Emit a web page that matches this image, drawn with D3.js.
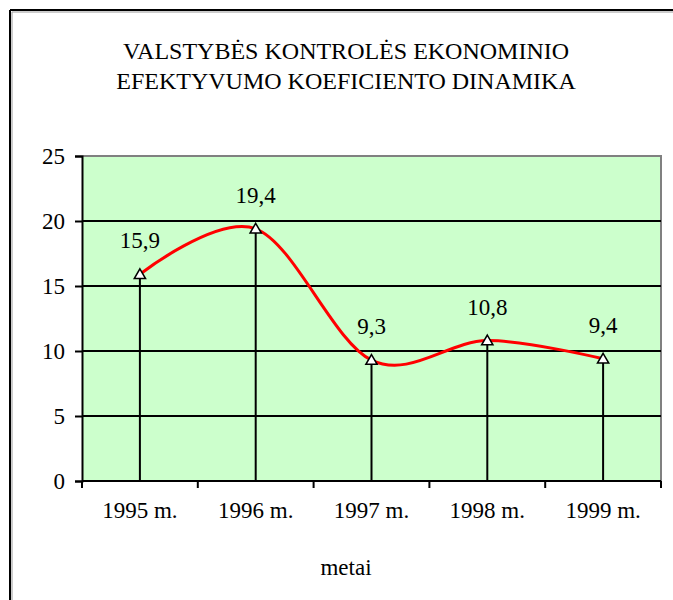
<!DOCTYPE html>
<html>
<head>
<meta charset="utf-8">
<script src="https://cdn.jsdelivr.net/npm/d3@7"></script>
</head>
<body style="margin:0; overflow:hidden">
<div id="app"></div>
<script>
const titleLines = ["VALSTYBĖS KONTROLĖS EKONOMINIO", "EFEKTYVUMO KOEFICIENTO DINAMIKA"];
const years = ["1995 m.", "1996 m.", "1997 m.", "1998 m.", "1999 m."];
const values = [15.9, 19.4, 9.3, 10.8, 9.4];
const yTicks = [0, 5, 10, 15, 20, 25];
const xTitle = "metai";

const width = 673, height = 600;
const plot = { left: 82, right: 661, top: 156, bottom: 481 };
const font = "Liberation Serif";

const svg = d3.select("#app")
  .append("svg")
  .attr("width", width)
  .attr("height", height)
  .attr("font-family", font)
  .style("display", "block");

// outer chart frame: only top and left edges are in view
svg.append("line")
  .attr("x1", 10).attr("x2", width + 5)
  .attr("y1", 10).attr("y2", 10)
  .attr("stroke", "#000").attr("stroke-width", 2);
svg.append("line")
  .attr("x1", 10).attr("x2", 10)
  .attr("y1", 10).attr("y2", height + 5)
  .attr("stroke", "#000").attr("stroke-width", 2);
svg.append("line")
  .attr("x1", 12).attr("x2", width + 5)
  .attr("y1", 12).attr("y2", 12)
  .attr("stroke", "#999").attr("stroke-width", 1);
svg.append("line")
  .attr("x1", 12).attr("x2", 12)
  .attr("y1", 12).attr("y2", height + 5)
  .attr("stroke", "#999").attr("stroke-width", 1);

// title
svg.append("g")
  .selectAll("text")
  .data(titleLines)
  .enter()
  .append("text")
  .attr("x", 346)
  .attr("y", (d, i) => 59 + i * 30)
  .attr("text-anchor", "middle")
  .attr("font-family", font)
  .attr("font-size", 24)
  .text(d => d);

const xScale = d3.scaleBand()
  .domain(years)
  .range([plot.left, plot.right]);

const yScale = d3.scaleLinear()
  .domain([0, 25])
  .range([plot.bottom, plot.top]);

// plot area
svg.append("rect")
  .attr("x", plot.left).attr("y", plot.top)
  .attr("width", plot.right - plot.left)
  .attr("height", plot.bottom - plot.top)
  .attr("fill", "#ccffcc");

// plot border top/right (grey)
svg.append("path")
  .attr("d", `M${plot.left},${plot.top}H${plot.right}V${plot.bottom}`)
  .attr("fill", "none")
  .attr("stroke", "#808080")
  .attr("stroke-width", 2);

// gridlines
svg.append("g")
  .selectAll("line")
  .data(yTicks.slice(1, -1))
  .enter()
  .append("line")
  .attr("x1", plot.left).attr("x2", plot.right)
  .attr("y1", d => yScale(d)).attr("y2", d => yScale(d))
  .attr("stroke", "#000")
  .attr("stroke-width", 2);

// y axis
const yAxis = svg.append("g")
  .attr("transform", `translate(${plot.left},0)`)
  .call(d3.axisLeft(yScale).tickValues(yTicks).tickSize(7).tickPadding(10).tickFormat(d3.format("d")))
  .attr("font-family", font)
  .attr("font-size", 23);
yAxis.select(".domain").attr("stroke-width", 2);
yAxis.selectAll(".tick line").attr("stroke-width", 2);
yAxis.selectAll("text").attr("dy", "0.34em");

// x axis with ticks at category boundaries
const xAxis = svg.append("g")
  .attr("transform", `translate(0,${plot.bottom})`)
  .call(d3.axisBottom(xScale).tickSize(0).tickPadding(30))
  .attr("font-family", font)
  .attr("font-size", 23);
xAxis.select(".domain").attr("stroke-width", 2).attr("d", `M${plot.left},0H${plot.right}`);
xAxis.selectAll("text").attr("dy", "0.3em");
xAxis.selectAll("line.bound")
  .data(years.map(d => xScale(d)).concat([plot.right]))
  .enter()
  .append("line")
  .classed("bound", true)
  .attr("x1", d => d).attr("x2", d => d)
  .attr("y1", 0).attr("y2", 7)
  .attr("stroke", "#000")
  .attr("stroke-width", 2);

svg.append("text")
  .attr("x", 346)
  .attr("y", 575)
  .attr("text-anchor", "middle")
  .attr("font-family", font)
  .attr("font-size", 23)
  .text(xTitle);

const cx = (d, i) => xScale(years[i]) + xScale.bandwidth() / 2;

// drop lines
svg.append("g")
  .selectAll("line")
  .data(values)
  .enter()
  .append("line")
  .attr("x1", cx).attr("x2", cx)
  .attr("y1", d => yScale(d)).attr("y2", yScale(0))
  .attr("stroke", "#000")
  .attr("stroke-width", 2);

// smoothed line
const line = d3.line()
  .x(cx)
  .y(d => yScale(d))
  .curve(d3.curveCardinal.tension(0));

svg.append("path")
  .datum(values)
  .attr("d", line)
  .attr("fill", "none")
  .attr("stroke", "#ff0000")
  .attr("stroke-width", 3);

// markers
svg.append("g")
  .selectAll("path")
  .data(values)
  .enter()
  .append("path")
  .attr("d", d3.symbol(d3.symbolTriangle, 55))
  .attr("transform", (d, i) => `translate(${cx(d, i)},${yScale(d) + 1})`)
  .attr("fill", "#fff")
  .attr("stroke", "#000")
  .attr("stroke-width", 1.5);

// data labels
svg.append("g")
  .selectAll("text")
  .data(values)
  .enter()
  .append("text")
  .attr("x", cx)
  .attr("y", d => yScale(d) - 26)
  .attr("text-anchor", "middle")
  .attr("font-family", font)
  .attr("font-size", 23)
  .text(d => d3.format(".1f")(d).replace(".", ","));
</script>
</body>
</html>
